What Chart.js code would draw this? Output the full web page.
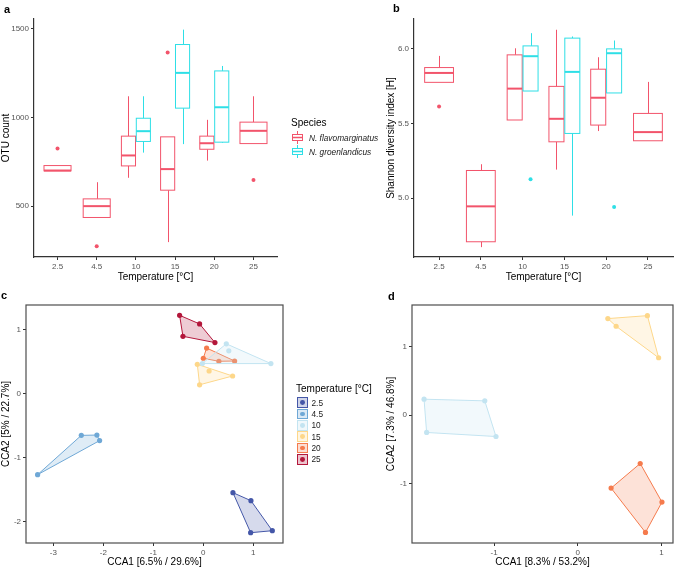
<!DOCTYPE html>
<html>
<head>
<meta charset="utf-8">
<script src="https://cdn.jsdelivr.net/npm/chart.js@4.4.0/dist/chart.umd.min.js"></script>
<style>
    body { margin: 0; background: #fff; font-family: 'Liberation Sans', Arial, sans-serif; }
    #wrap { position: relative; width: 677px; height: 571px; overflow: hidden; }
    #wrap canvas { position: absolute; }
    .panel { position: absolute; font-weight: bold; font-size: 11px; line-height: 12px; }
    .ltitle { position: absolute; font-size: 10px; line-height: 12px; color: #000; white-space: nowrap; }
    .ltext { position: absolute; font-size: 8.3px; line-height: 10px; color: #1a1a1a; white-space: nowrap; }
    .key { position: absolute; box-sizing: border-box; }
</style>
</head>
<body>
<div id="wrap">
    <canvas id="chartA" width="385" height="283" style="left:0;top:0"></canvas>
    <canvas id="chartB" width="292" height="283" style="left:385px;top:0"></canvas>
    <canvas id="chartC" width="385" height="278" style="left:0;top:290px"></canvas>
    <canvas id="chartD" width="292" height="278" style="left:385px;top:290px"></canvas>
    <div class="panel" style="left:4px;top:3px">a</div>
    <div class="panel" style="left:393px;top:2px">b</div>
    <div class="panel" style="left:1px;top:289px">c</div>
    <div class="panel" style="left:388px;top:290px">d</div>
    <div id="legendA"></div>
    <div id="legendC"></div>
</div>
<script>
// --- data -----------------------------------------------------------------
const tempLabels = ['2.5', '4.5', '10', '15', '20', '25'];
const speciesNames = ['N. flavomarginatus', 'N. groenlandicus'];
const speciesColors = ['#F2546B', '#2EDFE6'];

// boxes: [lower whisker, q1, median, q3, upper whisker], null = species not sampled
const otuTicks = [500, 1000, 1500];
const otuFlavo = [
    [699, 699, 701, 729, 729],
    [436, 436, 500, 541, 635],
    [660, 727, 786, 895, 1120],
    [297, 590, 709, 891, 891],
    [757, 821, 855, 895, 987],
    [853, 853, 925, 974, 1120]
];
const otuGroen = [null, null, [802, 865, 923, 996, 1120], [850, 1053, 1252, 1412, 1496], [857, 861, 1058, 1263, 1291], null];
const otuFlavoOut = [[0, 825], [1, 273], [3, 1367], [5, 648]];
const otuGroenOut = [];

const shanTicks = [5.0, 5.5, 6.0];
const shanTickLabels = ['5.0', '5.5', '6.0'];
const shanFlavo = [
    [5.776, 5.776, 5.839, 5.875, 5.953],
    [4.673, 4.709, 4.946, 5.186, 5.228],
    [5.524, 5.524, 5.734, 5.960, 6.004],
    [5.192, 5.378, 5.532, 5.749, 6.128],
    [5.450, 5.490, 5.673, 5.864, 5.944],
    [5.385, 5.385, 5.443, 5.568, 5.779]
];
const shanGroen = [null, null, [5.718, 5.718, 5.951, 6.020, 6.105], [4.884, 5.434, 5.846, 6.072, 6.083], [5.705, 5.705, 5.971, 6.000, 6.056], null];
const shanFlavoOut = [[0, 5.615]];
const shanGroenOut = [[2, 5.128], [4, 4.942]];

// CCA site scores [CCA1, CCA2] per temperature (same order as tempLabels)
const tempColors = ['#4457A8', '#6FA8D6', '#C3E4F1', '#FDD78A', '#F57B4D', '#B3173B'];
const ccaC = [
    [[0.593, -1.547], [0.953, -1.672], [1.380, -2.141], [0.947, -2.172]],
    [[-3.314, -1.266], [-2.440, -0.652], [-2.128, -0.647], [-2.074, -0.734]],
    [[0.460, 0.778], [0.510, 0.669], [1.352, 0.469], [-0.020, 0.469]],
    [[-0.120, 0.458], [0.116, 0.353], [0.586, 0.275], [-0.074, 0.138]],
    [[0.066, 0.712], [0.000, 0.552], [0.312, 0.505], [0.626, 0.509]],
    [[-0.474, 1.223], [-0.074, 1.088], [-0.407, 0.895], [0.233, 0.797]]
];
const ccaD = [
    null,
    null,
    [[-1.838, 0.233], [-1.112, 0.209], [-0.978, -0.311], [-1.807, -0.252]],
    [[0.359, 1.408], [0.832, 1.451], [0.458, 1.296], [0.966, 0.837]],
    [[0.746, -0.704], [1.006, -1.267], [0.809, -1.709], [0.398, -1.063]],
    null
];
const ccaCTicksX = [-3, -2, -1, 0, 1];
const ccaCTicksY = [-2, -1, 0, 1];
const ccaDTicksX = [-1, 0, 1];
const ccaDTicksY = [-1, 0, 1];

// --- helpers --------------------------------------------------------------
Chart.defaults.font.family = "'Liberation Sans', Arial, sans-serif";
Chart.defaults.animation = false;

function hexA(hex, a) {
    const n = parseInt(hex.slice(1), 16);
    return `rgba(${n >> 16}, ${(n >> 8) & 255}, ${n & 255}, ${a})`;
}

// dodge like ggplot: one box -> centred and wide, two boxes -> side by side
function boxPos(seriesList, i, k) {
    const present = seriesList.map((s, j) => s[i] ? j : -1).filter(j => j >= 0);
    if (present.length === 1) return { x: i, w: 0.69 };
    return { x: i + (present.indexOf(k) - 0.5) * 0.38, w: 0.36 };
}

function convexHull(pts) {
    const p = pts.slice().sort((a, b) => a[0] - b[0] || a[1] - b[1]);
    const cross = (o, a, b) => (a[0] - o[0]) * (b[1] - o[1]) - (a[1] - o[1]) * (b[0] - o[0]);
    const lower = [], upper = [];
    p.forEach(pt => {
        while (lower.length >= 2 && cross(lower[lower.length - 2], lower[lower.length - 1], pt) <= 0) lower.pop();
        lower.push(pt);
    });
    p.slice().reverse().forEach(pt => {
        while (upper.length >= 2 && cross(upper[upper.length - 2], upper[upper.length - 1], pt) <= 0) upper.pop();
        upper.push(pt);
    });
    return lower.slice(0, -1).concat(upper.slice(0, -1));
}

function makeAxis(o) {
    return {
        type: 'linear',
        min: o.min,
        max: o.max,
        bounds: 'data',
        afterBuildTicks: s => { s.ticks = o.ticks.map(v => ({ value: v })); },
        afterFit: s => {
            if (o.width) s.width = o.width;
            if (o.height) s.height = o.height;
        },
        ticks: {
            callback: (v, idx) => o.labels ? o.labels[idx] : String(v),
            color: '#555',
            font: { size: 8 },
            padding: 2,
            autoSkip: false,
            maxRotation: 0
        },
        grid: { display: true, drawOnChartArea: false, drawTicks: true, tickLength: 3, tickColor: '#333' },
        border: { display: o.border !== false, color: '#333', width: 1.2 },
        title: { display: true, text: o.title, color: '#000', font: { size: 10 }, padding: 0 }
    };
}

// box and whisker drawing through the chart scales
const boxPlugin = {
    id: 'boxes',
    beforeDatasetsDraw(chart, args, opts) {
        if (!opts.series) return;
        const { ctx } = chart;
        const xs = chart.scales.x, ys = chart.scales.y;
        opts.series.forEach((series, k) => {
            series.forEach((st, i) => {
                if (!st) return;
                const p = boxPos(opts.series, i, k);
                const cx = Math.round(xs.getPixelForValue(p.x)) + 0.5;
                const x0 = xs.getPixelForValue(p.x - p.w / 2);
                const x1 = xs.getPixelForValue(p.x + p.w / 2);
                const [lo, q1, med, q3, hi] = st.map(v => ys.getPixelForValue(v));
                ctx.save();
                ctx.strokeStyle = opts.colors[k];
                ctx.lineWidth = 1;
                ctx.beginPath();
                ctx.moveTo(cx, hi); ctx.lineTo(cx, q3);
                ctx.moveTo(cx, q1); ctx.lineTo(cx, lo);
                ctx.stroke();
                ctx.fillStyle = '#fff';
                ctx.fillRect(x0, q3, x1 - x0, q1 - q3);
                ctx.strokeRect(x0, q3, x1 - x0, q1 - q3);
                ctx.lineWidth = 2;
                ctx.beginPath();
                ctx.moveTo(x0, med); ctx.lineTo(x1, med);
                ctx.stroke();
                ctx.restore();
            });
        });
    }
};

const framePlugin = {
    id: 'frame',
    afterDraw(chart) {
        const { ctx, chartArea: a } = chart;
        ctx.save();
        ctx.strokeStyle = '#4D4D4D';
        ctx.lineWidth = 1.2;
        ctx.strokeRect(a.left, a.top, a.right - a.left, a.bottom - a.top);
        ctx.restore();
    }
};

function outlierSet(list, seriesList, k) {
    return {
        data: list.map(([i, v]) => ({ x: boxPos(seriesList, i, k).x, y: v })),
        pointRadius: 2,
        pointBackgroundColor: speciesColors[k],
        pointBorderWidth: 0
    };
}

function boxChart(id, o) {
    return new Chart(document.getElementById(id), {
        type: 'scatter',
        data: {
            datasets: [
                outlierSet(o.outliers[0], o.series, 0),
                outlierSet(o.outliers[1], o.series, 1)
            ]
        },
        options: {
            responsive: false,
            events: [],
            layout: { padding: o.padding },
            plugins: {
                legend: { display: false },
                tooltip: { enabled: false },
                boxes: { series: o.series, colors: speciesColors }
            },
            scales: {
                x: makeAxis({ min: -0.6, max: 5.6, ticks: [0, 1, 2, 3, 4, 5], labels: tempLabels, title: 'Temperature [°C]', height: 26 }),
                y: makeAxis({ min: o.yMin, max: o.yMax, ticks: o.yTicks, labels: o.yLabels, title: o.yTitle, width: o.yWidth })
            }
        },
        plugins: [boxPlugin]
    });
}

function ccaChart(id, o) {
    const datasets = [];
    o.points.forEach((pts, t) => {
        if (!pts) return;
        const hull = convexHull(pts);
        hull.push(hull[0]);
        datasets.push({
            data: hull.map(([x, y]) => ({ x, y })),
            showLine: true,
            fill: 'shape',
            tension: 0,
            borderColor: tempColors[t],
            borderWidth: 1,
            backgroundColor: hexA(tempColors[t], 0.22),
            pointRadius: 0
        });
        datasets.push({
            data: pts.map(([x, y]) => ({ x, y })),
            pointRadius: 2.6,
            pointBackgroundColor: tempColors[t],
            pointBorderWidth: 0
        });
    });
    return new Chart(document.getElementById(id), {
        type: 'scatter',
        data: { datasets },
        options: {
            responsive: false,
            events: [],
            layout: { padding: o.padding },
            plugins: { legend: { display: false }, tooltip: { enabled: false } },
            scales: {
                x: makeAxis({ min: o.xMin, max: o.xMax, ticks: o.xTicks, title: o.xTitle, height: 25, border: false }),
                y: makeAxis({ min: o.yMin, max: o.yMax, ticks: o.yTicks, title: o.yTitle, width: o.yWidth, border: false })
            }
        },
        plugins: [framePlugin]
    });
}

// --- charts ---------------------------------------------------------------
boxChart('chartA', {
    series: [otuFlavo, otuGroen],
    outliers: [otuFlavoOut, otuGroenOut],
    yMin: 213, yMax: 1556, yTicks: otuTicks, yTitle: 'OTU count', yWidth: 34,
    padding: { left: 0, top: 19, right: 108, bottom: 0 }
});

boxChart('chartB', {
    series: [shanFlavo, shanGroen],
    outliers: [shanFlavoOut, shanGroenOut],
    yMin: 4.607, yMax: 6.2, yTicks: shanTicks, yLabels: shanTickLabels,
    yTitle: 'Shannon diversity index [H]', yWidth: 29,
    padding: { left: 0, top: 19, right: 0, bottom: 0 }
});

ccaChart('chartC', {
    points: ccaC,
    xMin: -3.546, xMax: 1.594, xTicks: ccaCTicksX, xTitle: 'CCA1 [6.5% / 29.6%]',
    yMin: -2.333, yMax: 1.384, yTicks: ccaCTicksY, yTitle: 'CCA2 [5% / 22.7%]', yWidth: 26,
    padding: { left: 0, top: 15, right: 102, bottom: 0 }
});

ccaChart('chartD', {
    points: ccaD,
    xMin: -1.982, xMax: 1.138, xTicks: ccaDTicksX, xTitle: 'CCA1 [8.3% / 53.2%]',
    yMin: -1.863, yMax: 1.606, yTicks: ccaDTicksY, yTitle: 'CCA2 [7.3% / 46.8%]', yWidth: 27,
    padding: { left: 0, top: 15, right: 1, bottom: 0 }
});

// --- legends (html) -------------------------------------------------------
const legA = document.getElementById('legendA');
legA.innerHTML = '<div class="ltitle" style="left:291px;top:117px">Species</div>' +
    speciesNames.map((name, k) => {
        const top = 131 + k * 14.4;
        const c = speciesColors[k];
        return `<svg class="key" style="left:291px;top:${top}px" width="13" height="13">
                    <line x1="6.5" y1="0" x2="6.5" y2="13" stroke="${c}" stroke-width="1"/>
                    <rect x="1.5" y="3.5" width="10" height="6" fill="#fff" stroke="${c}" stroke-width="1"/>
                    <line x1="1.5" y1="6.5" x2="11.5" y2="6.5" stroke="${c}" stroke-width="1.5"/>
                </svg>
                <div class="ltext" style="left:309px;top:${top + 1.5}px;font-style:italic">${name}</div>`;
    }).join('');

const legC = document.getElementById('legendC');
legC.innerHTML = '<div class="ltitle" style="left:296px;top:383px">Temperature [°C]</div>' +
    tempLabels.map((t, i) => {
        const cy = 402.7 + i * 11.33;
        const c = tempColors[i];
        return `<div class="key" style="left:297px;top:${cy - 5.3}px;width:10.6px;height:10.6px;border:1px solid ${c};background:${hexA(c, 0.25)}"></div>
                <div class="key" style="left:${302.3 - 2.4}px;top:${cy - 2.4}px;width:4.8px;height:4.8px;border-radius:50%;background:${c}"></div>
                <div class="ltext" style="left:311.5px;top:${cy - 5}px">${t}</div>`;
    }).join('');
</script>
</body>
</html>
